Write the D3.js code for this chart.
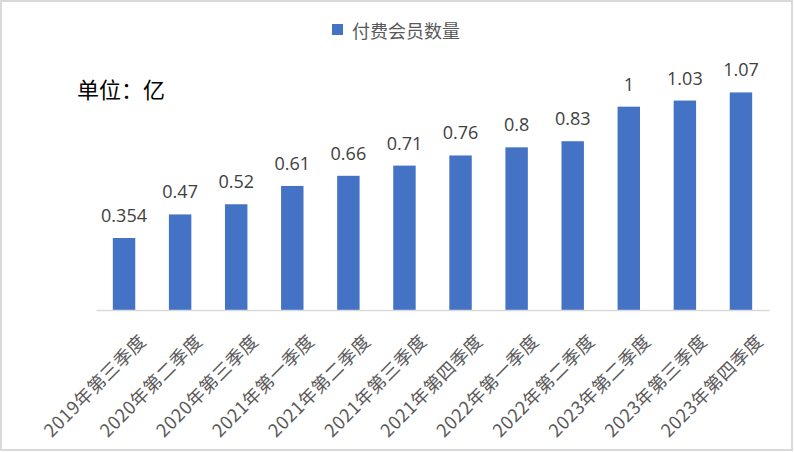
<!DOCTYPE html>
<html>
<head>
<meta charset="utf-8">
<script src="https://cdn.jsdelivr.net/npm/d3@7"></script>
<style>
html,body{margin:0;padding:0;background:#fff;}
svg{display:block;}
</style>
</head>
<body>
<script>
const categories = ["2019年第三季度","2020年第二季度","2020年第三季度","2021年第一季度","2021年第二季度","2021年第三季度","2021年第四季度","2022年第一季度","2022年第二季度","2023年第二季度","2023年第三季度","2023年第四季度"];
const values = [0.354, 0.47, 0.52, 0.61, 0.66, 0.71, 0.76, 0.8, 0.83, 1, 1.03, 1.07];
const valueLabels = ["0.354","0.47","0.52","0.61","0.66","0.71","0.76","0.8","0.83","1","1.03","1.07"];
const seriesName = "付费会员数量";
const unitText = "单位：亿";

const W = 794, H = 452;
const svg = d3.select("body").append("svg").attr("width", W).attr("height", H);

svg.append("rect").attr("x",1).attr("y",1).attr("width",791).attr("height",449)
  .attr("fill","#fff").attr("stroke","#d9d9d9").attr("stroke-width",2);

const x = d3.scaleBand().domain(categories).range([96, 769]).paddingInner(0.6).paddingOuter(0.3);
const y = d3.scaleLinear().domain([0, 1.2]).range([310, 66]);

svg.append("g").selectAll("rect").data(values).join("rect")
  .attr("x", (d,i) => x(categories[i]))
  .attr("y", d => y(d))
  .attr("width", x.bandwidth())
  .attr("height", d => y(0) - y(d))
  .attr("fill", "#4472c4");

// axis
const xAxis = d3.axisBottom(x).tickSize(0).tickFormat("");
const gx = svg.append("g").attr("transform", `translate(0,${y(0)})`).call(xAxis);
gx.select(".domain").attr("stroke","#d9d9d9").attr("stroke-width",1.5);

// category labels
svg.append("g").selectAll("text").data(categories).join("text")
  .attr("transform", d => `translate(${x(d) + x.bandwidth()/2 + 20},${339}) rotate(-45)`)
  .attr("text-anchor","end")
  .attr("dominant-baseline","middle")
  .attr("font-family","'Noto Sans CJK SC', sans-serif")
  .attr("font-size",18)
  .attr("letter-spacing",0.6)
  .attr("fill","#595959")
  .text(d => d);

// value labels
svg.append("g").selectAll("text").data(values).join("text")
  .attr("x", (d,i) => x(categories[i]) + x.bandwidth()/2)
  .attr("y", d => y(d) - 16)
  .attr("text-anchor","middle")
  .attr("font-family","'Open Sans', sans-serif")
  .attr("font-size",18)
  .attr("fill","#404040")
  .text((d,i) => valueLabels[i]);

// legend
const lg = svg.append("g");
lg.append("rect").attr("x",332).attr("y",24).attr("width",11).attr("height",11).attr("fill","#4472c4");
lg.append("text").attr("x",352).attr("y",30).attr("dominant-baseline","central")
  .attr("font-family","'Noto Sans CJK SC', sans-serif").attr("font-size",18)
  .attr("fill","#595959").text(seriesName);

// unit
svg.append("text").attr("x",77).attr("y",88).attr("dominant-baseline","central")
  .attr("font-family","'Noto Sans CJK SC', sans-serif").attr("font-size",22)
  .attr("fill","#000").text(unitText);
</script>
</body>
</html>
